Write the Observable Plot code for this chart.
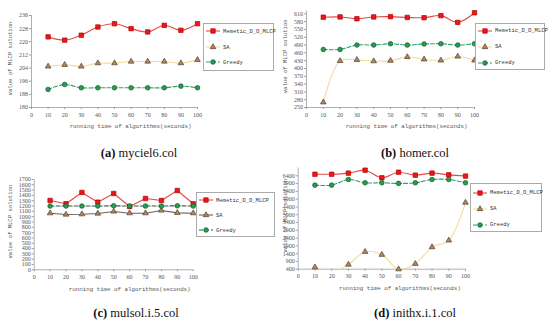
<!DOCTYPE html>
<html><head><meta charset="utf-8">
<script src="https://cdn.jsdelivr.net/npm/d3@7"></script>
<script src="https://cdn.jsdelivr.net/npm/@observablehq/plot@0.6"></script>
<style>
body{margin:0;background:#fff;}
#wrap{position:relative;width:550px;height:325px;overflow:hidden;background:#fff;}
.panel{position:absolute;}
.cap{position:absolute;font-family:"Liberation Serif",serif;font-size:12.5px;color:#111;white-space:nowrap;transform:translate(-50%,-50%);}
.leg{position:absolute;border:1px solid #aaa;background:#fff;box-sizing:border-box;}
.leg .row{position:absolute;left:0;height:8px;display:flex;align-items:center;}
.leg .row span{font-family:"Liberation Mono",monospace;font-size:5.5px;color:#333;margin-left:2px;white-space:nowrap;}
</style></head>
<body><div id="wrap"></div>
<script>
// ---- data ----
const times = [10, 20, 30, 40, 50, 60, 70, 80, 90, 100];
const xTicks = [0, 10, 20, 30, 40, 50, 60, 70, 80, 90, 100];
const seriesNames = ["Memetic_D_O_MLCP", "SA", "Greedy"];

const mycielMemetic = [223, 221, 224, 229, 231, 228, 226, 230, 227, 231];
const mycielSA      = [205, 206, 205, 207, 207, 208, 208, 208, 207, 209];
const mycielGreedy  = [191, 194, 192, 192, 192, 192, 192, 192, 193, 192];
const mycielTicks   = [180, 188, 196, 204, 212, 220, 228, 236];

const homerMemetic = [597, 598, 591, 598, 599, 596, 595, 603, 577, 614];
const homerSA      = [270, 429, 433, 428, 430, 444, 435, 431, 446, 431];
const homerGreedy  = [473, 473, 490, 490, 495, 490, 494, 495, 490, 495];
const homerTicks   = [250, 280, 310, 340, 370, 400, 430, 460, 490, 520, 550, 580, 610];

const mulsolMemetic = [1305, 1243, 1456, 1273, 1437, 1192, 1343, 1305, 1493, 1243];
const mulsolSA      = [1066, 1041, 1047, 1060, 1098, 1066, 1066, 1117, 1072, 1066];
const mulsolGreedy  = [1200, 1200, 1200, 1200, 1205, 1200, 1200, 1200, 1205, 1200];
const mulsolTicks   = [0, 100, 200, 300, 400, 500, 600, 700, 800, 900, 1000, 1100, 1200, 1300, 1400, 1500, 1600, 1700];

const inithxMemetic = [6500, 6500, 6570, 6760, 6270, 6630, 6440, 6570, 6460, 6380];
const inithxSA      = [530, 200, 700, 1520, 1330, 400, 750, 1820, 2250, 4680];
const inithxGreedy  = [5800, 5800, 6160, 5950, 5950, 5910, 5950, 6160, 6160, 5950];
const inithxTicks   = [400, 900, 1400, 1900, 2400, 2900, 3400, 3900, 4400, 4900, 5400, 5900, 6400];

// ---- styles ----
const styles = {
  Memetic_D_O_MLCP: {symbol: "square", r: 2.5, fill: "#e8171b", stroke: "#b80000", line: "#e44848", dash: null},
  SA: {symbol: "triangle", r: 2.1, fill: "#a8876a", stroke: "#5c3d22", line: "#f1dc98", dash: null},
  Greedy: {symbol: "circle", r: 2.3, fill: "#2a9a55", stroke: "#0b5a28", line: "#2f9c70", dash: "4,2"}
};

const panels = [
  {left: 0, top: 0, w: 275, h: 160, x0: 31, x1: 197, yT: 15, yB: 107, domain: [180, 236], ticks: mycielTicks,
   values: [mycielMemetic, mycielSA, mycielGreedy], curve: "catmull-rom", tdx: 16, cap: ["(a)", " myciel6.col"], capX: 139, capY: 153,
   leg: {x: 203, y: 23, w: 71, h: 48, rows: [31, 47, 62]}},
  {left: 275, top: 0, w: 275, h: 160, x0: 306, x1: 474, yT: 10.7, yB: 107, domain: [250, 620], ticks: homerTicks,
   values: [homerMemetic, homerSA, homerGreedy], curve: "catmull-rom", tdx: 16, cap: ["(b)", " homer.col"], capX: 415, capY: 153,
   leg: {x: 475, y: 23, w: 70, h: 47, rows: [30.5, 46.5, 62.5]}},
  {left: 0, top: 160, w: 275, h: 165, x0: 33.7, x1: 192.7, yT: 179, yB: 269.3, domain: [0, 1700], ticks: mulsolTicks,
   values: [mulsolMemetic, mulsolSA, mulsolGreedy], curve: "linear", tdx: 16, cap: ["(c)", " mulsol.i.5.col"], capX: 136, capY: 313,
   dark: true, leg: {x: 196, y: 192, w: 79, h: 45, rows: [200, 215, 230]}},
  {left: 275, top: 160, w: 275, h: 165, x0: 297.7, x1: 465, yT: 167.5, yB: 268.7, domain: [400, 6900], ticks: inithxTicks,
   values: [inithxMemetic, inithxSA, inithxGreedy], curve: "catmull-rom", tdx: 18, cap: ["(d)", " inithx.i.1.col"], capX: 415, capY: 313,
   leg: {x: 470, y: 183, w: 72, h: 49, rows: [192.7, 208.7, 224.7]}}
];

const wrap = document.getElementById("wrap");

function styleFor(name, dark) {
  const s = {...styles[name]};
  if (dark && name === "SA") s.line = "#6b6258";
  if (dark && name === "Greedy") s.line = "#2f5f42";
  return s;
}

for (const p of panels) {
  const rows = [];
  seriesNames.forEach((name, i) => p.values[i].forEach((v, j) => rows.push({series: name, t: times[j], v})));
  const marks = [
    Plot.ruleX([0], {stroke: "#9a9a9a", strokeWidth: 0.8}),
    Plot.ruleY([p.domain[0]], {stroke: "#9a9a9a", strokeWidth: 0.8}),
    Plot.axisY({ticks: p.ticks, tickSize: 2, tickPadding: 1.5, tickFormat: "d", fontSize: 6, fontFamily: "Liberation Serif", stroke: "#9a9a9a", fill: "#555", label: null}),
    Plot.axisX({ticks: xTicks, tickSize: 2, tickPadding: 3, tickFormat: "d", fontSize: 6, fontFamily: "Liberation Serif", stroke: "#9a9a9a", fill: "#555", label: null}),
    Plot.text(["running time of algorithms(seconds)"], {text: d => d, frameAnchor: "bottom", textAnchor: "middle", lineAnchor: "middle", dx: p.tdx, dy: 19, fontSize: 5.8, fontFamily: "Liberation Mono", fill: "#555"}),
    Plot.text(["value of MLCP solution"], {text: d => d, frameAnchor: "left", textAnchor: "middle", lineAnchor: "middle", rotate: -90, dx: -(p.x0 - p.left - 9.5), dy: -3, fontSize: 5.6, fontFamily: "Liberation Mono", fill: "#555"})
  ];
  for (const name of seriesNames) {
    const s = styleFor(name, p.dark);
    const data = rows.filter(r => r.series === name);
    marks.push(Plot.line(data, {x: "t", y: "v", curve: p.curve, stroke: s.line, strokeWidth: 1.1, strokeDasharray: s.dash, clip: p.domain[0] === 400}));
  }
  for (const name of seriesNames) {
    const s = styleFor(name, p.dark);
    const data = rows.filter(r => r.series === name && r.v >= p.domain[0]);
    marks.push(Plot.dot(data, {x: "t", y: "v", symbol: s.symbol, r: s.r, fill: s.fill, stroke: s.stroke, strokeWidth: 0.7}));
  }
  const chart = Plot.plot({
    width: p.w, height: p.h,
    marginLeft: p.x0 - p.left, marginRight: p.left + p.w - p.x1,
    marginTop: p.yT - p.top, marginBottom: p.top + p.h - p.yB,
    style: {background: "transparent", overflow: "visible"},
    x: {domain: [0, 100]},
    y: {domain: p.domain},
    marks
  });
  const div = document.createElement("div");
  div.className = "panel";
  div.style.left = p.left + "px"; div.style.top = p.top + "px";
  div.appendChild(chart);
  wrap.appendChild(div);

  // legend
  const leg = document.createElement("div");
  leg.className = "leg";
  Object.assign(leg.style, {left: p.leg.x + "px", top: p.leg.y + "px", width: p.leg.w + "px", height: p.leg.h + "px"});
  seriesNames.forEach((name, i) => {
    const s = styleFor(name, p.dark);
    const row = document.createElement("div");
    row.className = "row";
    row.style.top = (p.leg.rows[i] - p.leg.y - 5) + "px";
    const svg = d3.create("svg").attr("width", 17).attr("height", 8);
    svg.append("line").attr("x1", 2).attr("x2", 16).attr("y1", 4).attr("y2", 4)
      .attr("stroke", s.line).attr("stroke-width", 1.1).attr("stroke-dasharray", s.dash);
    const sym = {square: d3.symbolSquare, triangle: d3.symbolTriangle, circle: d3.symbolCircle}[s.symbol];
    svg.append("path").attr("transform", "translate(9,4)").attr("d", d3.symbol(sym, s.r * s.r * Math.PI)())
      .attr("fill", s.fill).attr("stroke", s.stroke).attr("stroke-width", 0.7);
    row.appendChild(svg.node());
    const sp = document.createElement("span");
    sp.textContent = name;
    row.appendChild(sp);
    leg.appendChild(row);
  });
  wrap.appendChild(leg);

  // caption
  const cap = document.createElement("div");
  cap.className = "cap";
  cap.style.left = p.capX + "px"; cap.style.top = p.capY + "px";
  const b = document.createElement("b"); b.textContent = p.cap[0];
  cap.appendChild(b);
  cap.appendChild(document.createTextNode(p.cap[1]));
  wrap.appendChild(cap);
}
</script>
</body></html>
